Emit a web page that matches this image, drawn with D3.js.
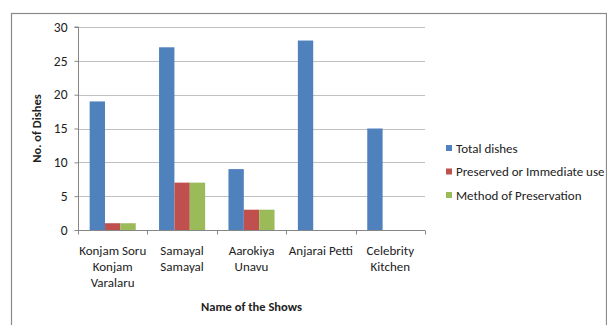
<!DOCTYPE html>
<html>
<head>
<meta charset="utf-8">
<script src="https://cdn.jsdelivr.net/npm/d3@7"></script>
<style>
  body { margin: 0; background: #fff; }
  svg text { font-family: Carlito, Lato, "Open Sans", sans-serif; fill: #222; }
</style>
</head>
<body>
<div id="chart"></div>
<script>
// Shows (x categories), each label split into lines like the original
const shows = ['Konjam Soru Konjam Varalaru', 'Samayal Samayal', 'Aarokiya Unavu', 'Anjarai Petti', 'Celebrity Kitchen'];
const showLines = [['Konjam Soru', 'Konjam', 'Varalaru'], ['Samayal', 'Samayal'], ['Aarokiya', 'Unavu'], ['Anjarai Petti'], ['Celebrity', 'Kitchen']];

const seriesNames = ['Total dishes', 'Preserved or Immediate use', 'Method of Preservation'];
const totalDishes = [19, 27, 9, 28, 15];
const preserved = [1, 7, 3, 0, 0];
const method = [1, 7, 3, 0, 0];
const yTicks = [0, 5, 10, 15, 20, 25, 30];

const colors = ['#4F81BD', '#C0504D', '#9BBB59'];
const seriesValues = [totalDishes, preserved, method];

const W = 607, H = 325;
const plot = { left: 78, right: 425, top: 27, bottom: 230 };

const svg = d3.select('#chart').append('svg')
  .attr('width', W)
  .attr('height', H);

// outer chart border
svg.append('rect')
  .attr('x', 11.5).attr('y', 13.5)
  .attr('width', W - 12).attr('height', H)
  .attr('fill', 'none')
  .attr('stroke', '#898989')
  .attr('stroke-width', 1.2);

const x0 = d3.scaleBand()
  .domain(shows)
  .range([plot.left, plot.right])
  .paddingInner(0.336)
  .paddingOuter(0.168);

const x1 = d3.scaleBand()
  .domain(seriesNames)
  .range([0, x0.bandwidth()]);

const y = d3.scaleLinear()
  .domain([0, 30])
  .range([plot.bottom, plot.top]);

// gridlines
svg.append('g')
  .selectAll('line')
  .data(yTicks.filter(d => d > 0))
  .join('line')
  .attr('x1', plot.left).attr('x2', plot.right)
  .attr('y1', d => Math.round(y(d)) + 0.5)
  .attr('y2', d => Math.round(y(d)) + 0.5)
  .attr('stroke', '#c0c0c0')
  .attr('stroke-width', 1);

// bars
const groups = svg.append('g')
  .selectAll('g')
  .data(shows)
  .join('g')
  .attr('transform', d => `translate(${x0(d)},0)`);

groups.selectAll('rect')
  .data((d, i) => seriesNames.map((s, k) => ({ s, k, v: seriesValues[k][i] })))
  .join('rect')
  .attr('x', d => x1(d.s))
  .attr('y', d => y(d.v))
  .attr('width', x1.bandwidth())
  .attr('height', d => y(0) - y(d.v))
  .attr('fill', d => colors[d.k]);

// y axis
const yAxis = svg.append('g')
  .attr('transform', `translate(${plot.left + 0.5},0)`)
  .call(d3.axisLeft(y).tickValues(yTicks).tickSize(4).tickPadding(7));
yAxis.select('.domain').attr('stroke', '#868686').attr('d', `M-4,${plot.top}H0V${plot.bottom}`);
yAxis.selectAll('.tick line').attr('stroke', '#868686');
yAxis.selectAll('.tick text').style('font-size', '13.5px').attr('fill', '#333');

// x axis
const xAxisG = svg.append('g')
  .attr('transform', `translate(0,${plot.bottom + 0.5})`);
xAxisG.append('line')
  .attr('x1', plot.left).attr('x2', plot.right)
  .attr('stroke', '#868686');
const step = x0.step();
xAxisG.selectAll('line.tk')
  .data(d3.range(shows.length + 1))
  .join('line')
  .attr('class', 'tk')
  .attr('x1', i => Math.round(plot.left + i * step) + 0.5)
  .attr('x2', i => Math.round(plot.left + i * step) + 0.5)
  .attr('y1', 0).attr('y2', 4)
  .attr('stroke', '#868686');

const labels = xAxisG.selectAll('text.cat')
  .data(shows)
  .join('text')
  .attr('class', 'cat')
  .attr('text-anchor', 'middle')
  .attr('x', d => x0(d) + x0.bandwidth() / 2)
  .attr('y', 24)
  .style('font-size', '13px');
labels.selectAll('tspan')
  .data((d, i) => showLines[i])
  .join('tspan')
  .attr('x', function () { return this.parentNode.getAttribute('x'); })
  .attr('dy', (d, i) => i === 0 ? 0 : 16)
  .text(d => d);

// axis titles
svg.append('text')
  .attr('x', (plot.left + plot.right) / 2)
  .attr('y', 311)
  .attr('text-anchor', 'middle')
  .style('font-size', '12.5px')
  .style('font-weight', 'bold')
  .text('Name of the Shows');

svg.append('text')
  .attr('transform', `translate(41,${(plot.top + plot.bottom) / 2}) rotate(-90)`)
  .attr('text-anchor', 'middle')
  .style('font-size', '12.5px')
  .style('font-weight', 'bold')
  .text('No. of Dishes');

// legend
const legend = svg.append('g')
  .attr('transform', 'translate(446,148)');
const items = legend.selectAll('g')
  .data(seriesNames)
  .join('g')
  .attr('transform', (d, i) => `translate(0,${i * 23.5})`);
items.append('rect')
  .attr('x', 0).attr('y', -3)
  .attr('width', 6).attr('height', 6)
  .attr('fill', (d, i) => colors[i]);
items.append('text')
  .attr('x', 10)
  .attr('y', 4.5)
  .style('font-size', '13px')
  .text(d => d);
</script>
</body>
</html>
